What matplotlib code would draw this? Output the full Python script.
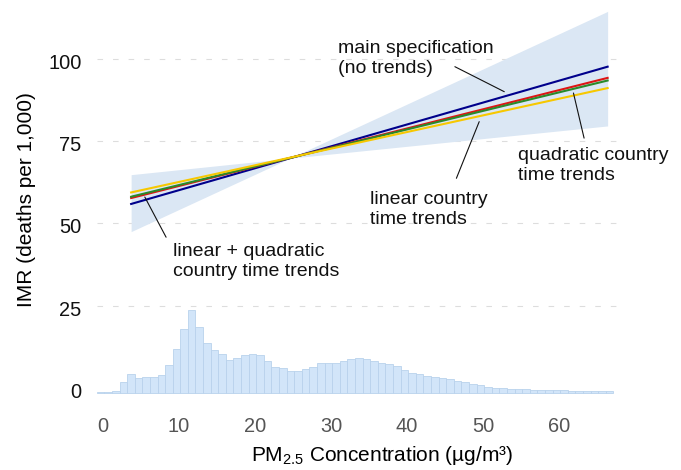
import matplotlib
matplotlib.use("Agg")
import matplotlib.pyplot as plt
import matplotlib.transforms as mtransforms
import numpy as np

plt.rcParams['font.family'] = ['Liberation Sans', 'DejaVu Sans']
plt.rcParams['mathtext.fontset'] = 'custom'
plt.rcParams['mathtext.rm'] = 'Liberation Sans'
plt.rcParams['mathtext.it'] = 'Liberation Sans:italic'

# histogramy PM2.5 (szerokosc binu = 1)
hist_start = -0.83
hist_vals = [0.2, 0.2, 0.5, 3.1, 5.6, 4.3, 4.6, 4.6, 5.4, 8.3,
             13.2, 19.4, 25.0, 20.0, 15.2, 13.0, 11.6, 9.9, 10.6, 11.3,
             11.8, 11.3, 9.5, 7.7, 7.6, 6.6, 6.7, 7.3, 7.9, 8.9,
             9.1, 8.9, 9.7, 10.3, 10.4, 10.2, 9.7, 9.1, 8.6, 8.0,
             6.8, 6.1, 5.6, 5.1, 4.8, 4.3, 4.0, 3.5, 3.1, 2.6,
             2.2, 1.7, 1.5, 1.3, 1.2, 1.1, 1.0, 0.9, 0.9, 0.8,
             0.7, 0.7, 0.6, 0.6, 0.6, 0.5, 0.5, 0.4]
hist_base = -1.4

# linie (wartosci na koncach zakresu)
line_x = [3.7, 66.4]
main_y = [55.9, 97.6]
linear_y = [59.4, 91.1]
quad_y = [58.1, 93.4]
linquad_y = [57.7, 94.2]

# przedzial ufnosci
band_x = [3.7, 24.6, 66.4]
band_lo = [47.5, 69.8, 79.6]
band_hi = [64.8, 69.8, 114.4]

fig = plt.figure(figsize=(6.81, 4.70), dpi=100)
ax = fig.add_axes([0.142, 0.157, 0.764, 0.837])

left_edges = hist_start + np.arange(len(hist_vals))
ax.bar(left_edges, hist_vals, width=1, align='edge', bottom=hist_base,
       color='#d2e5f9', edgecolor='#b9d2ec', linewidth=0.6, zorder=2)

ax.fill_between(band_x, band_lo, band_hi, color='#dbe7f4', linewidth=0, zorder=1)

ax.plot(line_x, main_y, color='#00008b', lw=1.5, zorder=3)
ax.plot(line_x, linquad_y, color='#dd1515', lw=1.5, zorder=3)
ax.plot(line_x, quad_y, color='#2a8a2a', lw=1.5, zorder=3)
ax.plot(line_x, linear_y, color='#f7c800', lw=1.5, zorder=3)

yticks = [0, 25, 50, 75, 100]
for t in yticks[1:]:
    ax.axhline(t, color='#dddddd', lw=0.8, linestyle=(0, (5, 9)), zorder=0)

ax.set_xlim(-0.83, 67.63)
ax.set_ylim(-2.5, 117)
ax.set_yticks(yticks)
ax.set_xticks([0, 10, 20, 30, 40, 50, 60])
ax.tick_params(axis='both', length=0, labelsize=14.4)
ax.tick_params(axis='x', pad=15, labelcolor='#555555')
ax.tick_params(axis='y', pad=11, labelcolor='#111111')
for s in ax.spines.values():
    s.set_visible(False)

# etykiety osi y lekko ponizej linii siatki
off = mtransforms.ScaledTranslation(0, -2.5 / 100, fig.dpi_scale_trans)
for lbl in ax.get_yticklabels():
    lbl.set_transform(lbl.get_transform() + off)

ax.set_ylabel('IMR (deaths per 1,000)', fontsize=15, labelpad=9)
ax.set_xlabel('PM$_{2.5}$ Concentration (µg/m³)', fontsize=15)
ax.xaxis.set_label_coords(0.548, -0.122)

txt = dict(fontsize=14, color='#111111', ha='left', va='center', linespacing=1.25)
ax.text(30.9, 100.2, 'main specification\n(no trends)', **txt)
ax.text(35.1, 54.3, 'linear country\ntime trends', **txt)
ax.text(54.6, 67.5, 'quadratic country\ntime trends', **txt)
ax.text(9.2, 38.4, 'linear + quadratic\ncountry time trends', **txt)

arr = dict(arrowstyle='-', color='#111111', lw=0.8, shrinkA=0, shrinkB=0)
ax.annotate('', xy=(52.8, 90.0), xytext=(46.3, 97.6), arrowprops=arr)
ax.annotate('', xy=(49.5, 80.9), xytext=(46.5, 63.7), arrowprops=arr)
ax.annotate('', xy=(61.9, 89.6), xytext=(63.3, 75.9), arrowprops=arr)
ax.annotate('', xy=(5.5, 58.0), xytext=(8.3, 45.8), arrowprops=arr)

plt.savefig('out.png', dpi=100)
